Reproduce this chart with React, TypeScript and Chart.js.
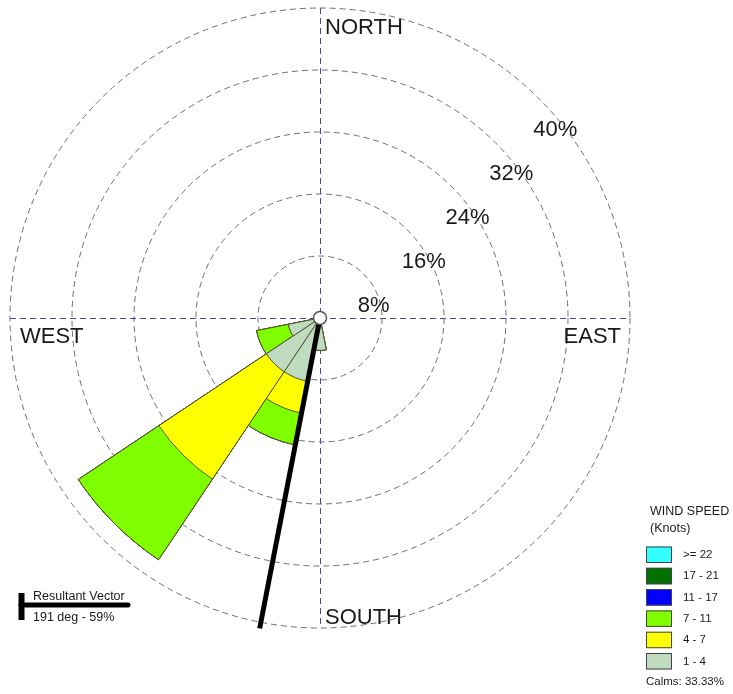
import React, { useEffect, useRef } from 'react';
import { Chart, registerables } from 'chart.js';

Chart.register(...registerables);

// ---- data -------------------------------------------------------------
const directions = ['N', 'NNE', 'NE', 'ENE', 'E', 'ESE', 'SE', 'SSE', 'S', 'SSW', 'SW', 'WSW', 'W', 'WNW', 'NW', 'NNW'];
const speedClasses = ['1 - 4', '4 - 7', '7 - 11', '11 - 17', '17 - 21', '>= 22'];
const speedColors = ['#c0dcc0', '#ffff00', '#80ff00', '#0000ff', '#007000', '#33ffff'];

// percent of all observations, by direction (N, NNE, ... NNW)
const freq1to4 = [0, 0, 0, 0, 0, 0, 0, 0, 4.17, 8.33, 8.33, 4.17, 0, 0, 0, 0];
const freq4to7 = [0, 0, 0, 0, 0, 0, 0, 0, 0, 4.17, 16.67, 0, 0, 0, 0, 0];
const freq7to11 = [0, 0, 0, 0, 0, 0, 0, 0, 0, 4.17, 12.5, 4.17, 0, 0, 0, 0];
const freq11to17 = [0, 0, 0, 0, 0, 0, 0, 0, 0, 0, 0, 0, 0, 0, 0, 0];
const freq17to21 = [0, 0, 0, 0, 0, 0, 0, 0, 0, 0, 0, 0, 0, 0, 0, 0];
const freq22plus = [0, 0, 0, 0, 0, 0, 0, 0, 0, 0, 0, 0, 0, 0, 0, 0];

const ringTicks = [8, 16, 24, 32, 40];
const compassLabels = ['NORTH', 'EAST', 'SOUTH', 'WEST'];
const calmsPct = 33.33;
const resultantDeg = 191;
const resultantPct = 59;
const resultantReach = 40.8; // drawn length, in scale units

// ---- helpers ------------------------------------------------------------
const FONT = "'Liberation Sans', Arial, Helvetica, sans-serif";
const classSeries = [freq1to4, freq4to7, freq7to11, freq11to17, freq17to21, freq22plus];
const cumulative: number[][] = [];
classSeries.forEach((series, k) => {
  cumulative.push(series.map((v, i) => +(v + (k > 0 ? cumulative[k - 1][i] : 0)).toFixed(2)));
});

const roseDecor = {
  id: 'roseDecor',
  beforeDatasetsDraw(chart: any) {
    const s = chart.scales.r;
    const ctx = chart.ctx as CanvasRenderingContext2D;
    const cx = s.xCenter;
    const cy = s.yCenter;
    const R = s.getDistanceFromCenterForValue(ringTicks[ringTicks.length - 1]);
    ctx.save();
    // N-S / E-W axes
    ctx.strokeStyle = '#4a4a9e';
    ctx.lineWidth = 1;
    ctx.setLineDash([6, 4]);
    ctx.beginPath();
    ctx.moveTo(cx + 0.5, cy - R);
    ctx.lineTo(cx + 0.5, cy + R);
    ctx.moveTo(cx - R, cy + 0.5);
    ctx.lineTo(cx + R, cy + 0.5);
    ctx.stroke();
    ctx.setLineDash([]);

    // ring labels
    ctx.fillStyle = '#1a1a1a';
    ctx.font = `22px ${FONT}`;
    ctx.textAlign = 'left';
    ctx.textBaseline = 'alphabetic';
    ringTicks.forEach((t) => {
      const r = s.getDistanceFromCenterForValue(t);
      ctx.fillText(`${t}%`, cx + r * Math.SQRT1_2 - 6, cy - r * Math.SQRT1_2 + 37.5);
    });

    // compass labels
    ctx.fillText(compassLabels[0], cx + 5, cy - R + 26);
    ctx.fillText(compassLabels[2], cx + 5, cy + R - 4);
    ctx.fillText(compassLabels[3], cx - R + 10, cy + 25);
    ctx.textAlign = 'right';
    ctx.fillText(compassLabels[1], cx + R - 9, cy + 25);
    ctx.restore();
  },
  afterDatasetsDraw(chart: any) {
    const s = chart.scales.r;
    const ctx = chart.ctx as CanvasRenderingContext2D;
    const cx = s.xCenter;
    const cy = s.yCenter;
    ctx.save();
    // resultant vector
    const a = ((resultantDeg - 90) * Math.PI) / 180;
    const d = s.getDistanceFromCenterForValue(resultantReach);
    ctx.strokeStyle = '#000';
    ctx.lineWidth = 5;
    ctx.lineCap = 'butt';
    ctx.beginPath();
    ctx.moveTo(cx, cy);
    ctx.lineTo(cx + Math.cos(a) * d, cy + Math.sin(a) * d);
    ctx.stroke();
    // calm circle
    ctx.beginPath();
    ctx.arc(cx, cy, 6.5, 0, Math.PI * 2);
    ctx.fillStyle = '#ffffff';
    ctx.fill();
    ctx.lineWidth = 1.5;
    ctx.strokeStyle = '#555';
    ctx.stroke();
    ctx.restore();
  },
  afterDraw(chart: any) {
    const ctx = chart.ctx as CanvasRenderingContext2D;
    ctx.save();
    ctx.fillStyle = '#1a1a1a';
    ctx.textAlign = 'left';
    ctx.textBaseline = 'alphabetic';
    // legend
    ctx.font = `12.5px ${FONT}`;
    ctx.fillText('WIND SPEED', 650, 515);
    ctx.fillText('(Knots)', 650, 531.5);
    ctx.font = `11.5px ${FONT}`;
    const n = speedClasses.length;
    for (let j = 0; j < n; j++) {
      const k = n - 1 - j;
      const top = 546.5 + j * 21.3;
      ctx.fillStyle = speedColors[k];
      ctx.fillRect(646, top, 26, 16.5);
      ctx.strokeStyle = '#444';
      ctx.lineWidth = 1;
      ctx.strokeRect(646.5, top + 0.5, 25, 15.5);
      ctx.fillStyle = '#1a1a1a';
      ctx.textBaseline = 'middle';
      ctx.fillText(speedClasses[k], 683, top + 8.5);
    }
    ctx.fillText(`Calms: ${calmsPct.toFixed(2)}%`, 646, 682);

    // resultant vector key
    ctx.fillStyle = '#000';
    ctx.fillRect(18.5, 593, 6, 27);
    ctx.strokeStyle = '#000';
    ctx.lineWidth = 5;
    ctx.lineCap = 'round';
    ctx.beginPath();
    ctx.moveTo(21, 605);
    ctx.lineTo(128, 605);
    ctx.stroke();
    ctx.fillStyle = '#1a1a1a';
    ctx.textBaseline = 'alphabetic';
    ctx.font = `12.5px ${FONT}`;
    ctx.fillText('Resultant Vector', 33, 600);
    ctx.fillText(`${resultantDeg} deg - ${resultantPct}%`, 33, 621);
    ctx.restore();
  },
};

export default function App() {
  const ref = useRef<HTMLCanvasElement>(null);
  useEffect(() => {
    if (!ref.current) return;
    const chart = new Chart(ref.current, {
      type: 'polarArea',
      data: {
        labels: directions,
        datasets: speedClasses.map((name, k) => ({
          label: name,
          data: cumulative[k],
          backgroundColor: speedColors[k],
          borderColor: '#55552f',
          borderWidth: (c: any) => (c.raw > 0 ? 1 : 0),
        })),
      },
      options: {
        animation: false,
        responsive: false,
        layout: { padding: { left: 10, right: 103, top: 8, bottom: 66 } },
        plugins: { legend: { display: false }, tooltip: { enabled: false } },
        scales: {
          r: {
            min: 0,
            max: 40,
            startAngle: -11.25,
            ticks: { display: false, stepSize: 8 },
            grid: { circular: true, color: '#6c6c86', lineWidth: 1 },
            border: { dash: [6, 4] },
            angleLines: { display: false },
            pointLabels: { display: false },
          },
        },
      } as any,
      plugins: [roseDecor],
    });
    return () => chart.destroy();
  }, []);
  return (
    <div style={{ position: 'absolute', left: 0, top: 0, width: 733, height: 694, background: '#fff' }}>
      <canvas ref={ref} width={733} height={694} style={{ display: 'block', width: 733, height: 694 }} />
    </div>
  );
}
